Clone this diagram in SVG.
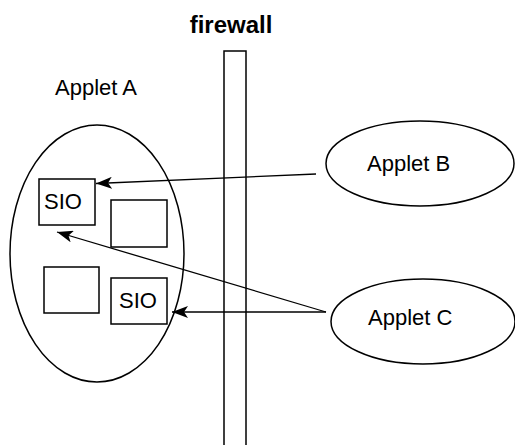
<svg xmlns="http://www.w3.org/2000/svg" width="515" height="445" viewBox="0 0 515 445">
<style>
.s{fill:#fff;stroke:#000;stroke-width:1.5}
.t{font-family:"Liberation Sans",Arial,sans-serif;font-size:22px;fill:#000}
.c{stroke:#000;stroke-width:1.3;fill:none;marker-end:url(#ah)}
</style>
<defs>
<marker id="ah" markerUnits="userSpaceOnUse" markerWidth="18" markerHeight="12" refX="16" refY="6" orient="auto">
<path d="M0,0 L16,6 L0,12 L4,6 Z" fill="#000"/>
</marker>
</defs>
<rect width="515" height="445" fill="#fff"/>
<g id="firewall">
<rect class="s" x="224" y="51" width="22" height="400"/>
<text x="231" y="33" text-anchor="middle" style="font-family:'Liberation Sans',Arial,sans-serif;font-size:24px;font-weight:bold">firewall</text>
</g>
<g id="appletA">
<text class="t" x="55" y="95">Applet A</text>
<ellipse class="s" cx="97" cy="253.5" rx="87" ry="128.5"/>
</g>
<g id="sio1">
<rect class="s" x="39" y="179" width="56" height="46"/>
<text class="t" x="44" y="209">SIO</text>
</g>
<g id="box1"><rect class="s" x="111" y="200" width="56" height="47"/></g>
<g id="box2"><rect class="s" x="44" y="267" width="55" height="46"/></g>
<g id="sio2">
<rect class="s" x="111" y="278" width="56" height="46"/>
<text class="t" x="119" y="308">SIO</text>
</g>
<g id="appletB">
<ellipse class="s" cx="420" cy="163.5" rx="94" ry="42.5"/>
<text class="t" x="367" y="171">Applet B</text>
</g>
<g id="appletC">
<ellipse class="s" cx="423" cy="321.5" rx="92" ry="42.5"/>
<text class="t" x="368" y="325">Applet C</text>
</g>
<g id="connectors">
<line class="c" x1="316" y1="174" x2="96" y2="183.5"/>
<line class="c" x1="326" y1="312" x2="57" y2="232"/>
<line class="c" x1="326" y1="312" x2="172" y2="312"/>
</g>
</svg>
